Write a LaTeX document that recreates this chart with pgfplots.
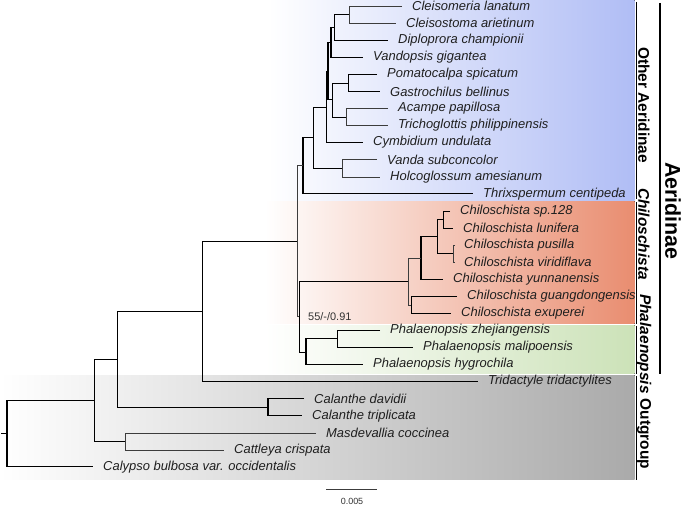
\documentclass[border=0pt]{standalone}
\usepackage{fontspec}
\setmainfont{Liberation Sans}
\usepackage{pgfplots}
\pgfplotsset{compat=1.18}
\definecolor{blueR}{RGB}{176,189,245}
\definecolor{redR}{RGB}{233,141,112}
\definecolor{greenR}{RGB}{204,226,184}
\definecolor{grayR}{RGB}{170,170,170}
\definecolor{br}{RGB}{60,60,60}
\tikzset{
  tip/.style={anchor=west, inner sep=0pt, text=black!88, font=\itshape\fontsize{13}{15}\selectfont},
  grp/.style={rotate=-90, inner sep=0pt, font=\bfseries\fontsize{15.5}{18}\selectfont},
}
\begin{document}
\begin{tikzpicture}
\begin{axis}[name=ax,
  width=685bp, height=505bp, scale only axis,
  xmin=0, xmax=685, ymin=0, ymax=505, y dir=reverse,
  hide axis, clip=false,
  cycle list={{color=br, solid, line width=1.1bp, mark=none}},
]
% background gradients
\fill[left color=white, right color=blueR] (268,0) rectangle (634.5,200);
\fill[left color=white, right color=redR] (265,201) rectangle (634.5,323.5);
\fill[left color=white, right color=greenR] (265,325) rectangle (634.5,373.5);
\fill[left color=white, right color=grayR] (0,375) rectangle (634.5,479);

% tree (brackets)
\addplot coordinates {(402,6) (349,6) (349,23.1) (396,23.1)};
\addplot coordinates {(349,14.5) (334,14.5) (334,40.1) (388,40.1)};
\addplot coordinates {(334,27.3) (331,27.3) (331,57.2) (363,57.2)};
\addplot coordinates {(377,74.3) (348,74.3) (348,91.4) (380,91.4)};
\addplot coordinates {(388,108.4) (346,108.4) (346,125.5) (388,125.5)};
\addplot coordinates {(348,82.8) (332,82.8) (332,117) (346,117)};
\addplot coordinates {(331,42.3) (328,42.3) (328,99.9) (332,99.9)};
\addplot coordinates {(328,71.1) (326,71.1) (326,142.6) (363,142.6)};
\addplot coordinates {(377,159.6) (342,159.6) (342,176.7) (380,176.7)};
\addplot coordinates {(326,106.8) (313,106.8) (313,168.2) (342,168.2)};
\addplot coordinates {(313,137.5) (303,137.5) (303,193.8) (473,193.8)};
\addplot coordinates {(450,210.8) (443,210.8) (443,227.9) (453,227.9)};
\addplot coordinates {(455,245) (453,245) (453,262.1) (455,262.1)};
\addplot coordinates {(443,219.4) (437,219.4) (437,253.5) (453,253.5)};
\addplot coordinates {(437,236.5) (421,236.5) (421,279.1) (443,279.1)};
\addplot coordinates {(457,296.2) (411,296.2) (411,313.3) (451,313.3)};
\addplot coordinates {(421,257.8) (408,257.8) (408,304.7) (411,304.7)};
\addplot coordinates {(380,330.3) (337,330.3) (337,347.4) (413,347.4)};
\addplot coordinates {(337,338.9) (306,338.9) (306,364.5) (363,364.5)};
\addplot coordinates {(408,281.3) (299,281.3) (299,351.7) (306,351.7)};
\addplot coordinates {(303,165.6) (297,165.6) (297,316.5) (299,316.5)};
\addplot coordinates {(297,241) (202,241) (202,381.6) (478,381.6)};
\addplot coordinates {(304,398.6) (268,398.6) (268,415.7) (302,415.7)};
\addplot coordinates {(202,311.3) (117,311.3) (117,407.2) (268,407.2)};
\addplot coordinates {(316,432.8) (125,432.8) (125,449.8) (224,449.8)};
\addplot coordinates {(117,359.2) (94,359.2) (94,441.3) (125,441.3)};
\addplot coordinates {(94,400.3) (7,400.3) (7,466.9) (93,466.9)};
\addplot coordinates {(1,433.6) (7,433.6)};

% scale bar
\addplot[color=br, line width=1bp] coordinates {(326,489) (377,489)};
\node[inner sep=0pt, font=\fontsize{9}{10}\selectfont, text=black!80] at (352,501) {0.005};

% tip labels
\node[tip] at (412,6.0) {Cleisomeria lanatum};
\node[tip] at (406,23.1) {Cleisostoma arietinum};
\node[tip] at (398,40.1) {Diploprora championii};
\node[tip] at (373,57.2) {Vandopsis gigantea};
\node[tip] at (387,74.3) {Pomatocalpa spicatum};
\node[tip] at (390,91.4) {Gastrochilus bellinus};
\node[tip] at (398,108.4) {Acampe papillosa};
\node[tip] at (398,125.5) {Trichoglottis philippinensis};
\node[tip] at (373,142.6) {Cymbidium undulata};
\node[tip] at (387,159.6) {Vanda subconcolor};
\node[tip] at (390,176.7) {Holcoglossum amesianum};
\node[tip] at (483,193.8) {Thrixspermum centipeda};
\node[tip] at (460,210.8) {Chiloschista sp.128};
\node[tip] at (463,227.9) {Chiloschista lunifera};
\node[tip] at (464,245.0) {Chiloschista pusilla};
\node[tip] at (464,262.1) {Chiloschista viridiflava};
\node[tip] at (453,279.1) {Chiloschista yunnanensis};
\node[tip] at (467,296.2) {Chiloschista guangdongensis};
\node[tip] at (461,313.3) {Chiloschista exuperei};
\node[tip] at (390,330.3) {Phalaenopsis zhejiangensis};
\node[tip] at (423,347.4) {Phalaenopsis malipoensis};
\node[tip] at (373,364.5) {Phalaenopsis hygrochila};
\node[tip] at (488,381.6) {Tridactyle tridactylites};
\node[tip] at (314,398.6) {Calanthe davidii};
\node[tip] at (312,415.7) {Calanthe triplicata};
\node[tip] at (326,432.8) {Masdevallia coccinea};
\node[tip] at (234,449.8) {Cattleya crispata};
\node[tip] at (103,466.9) {Calypso bulbosa var. occidentalis};

% support value
\node[anchor=west, inner sep=0pt, text=black!80, font=\fontsize{11}{12}\selectfont] at (308,317) {55/-/0.91};

% group bars
\draw[line width=1.6bp] (636.5,2) -- (636.5,199);
\draw[line width=1.6bp] (636.5,202) -- (636.5,323.5);
\draw[line width=1.6bp] (636.5,326) -- (636.5,373.5);
\draw[line width=1.6bp] (636.5,376) -- (636.5,480);
\draw[line width=1.8bp] (660,3) -- (660,374);

% group labels
\node[grp] at (644,105) {Other Aeridinae};
\node[grp, font=\bfseries\itshape\fontsize{15.5}{18}\selectfont] at (644,234) {Chiloschista};
\node[grp, font=\bfseries\itshape\fontsize{15.5}{18}\selectfont] at (644,344) {Phalaenopsis};
\node[grp] at (644,434) {Outgroup};
\node[rotate=-90, inner sep=0pt, font=\bfseries\fontsize{21.5}{24}\selectfont] at (673,211) {Aeridinae};
\end{axis}
\pgfresetboundingbox
\path (ax.south west) rectangle (ax.north east);
\end{tikzpicture}
\end{document}
